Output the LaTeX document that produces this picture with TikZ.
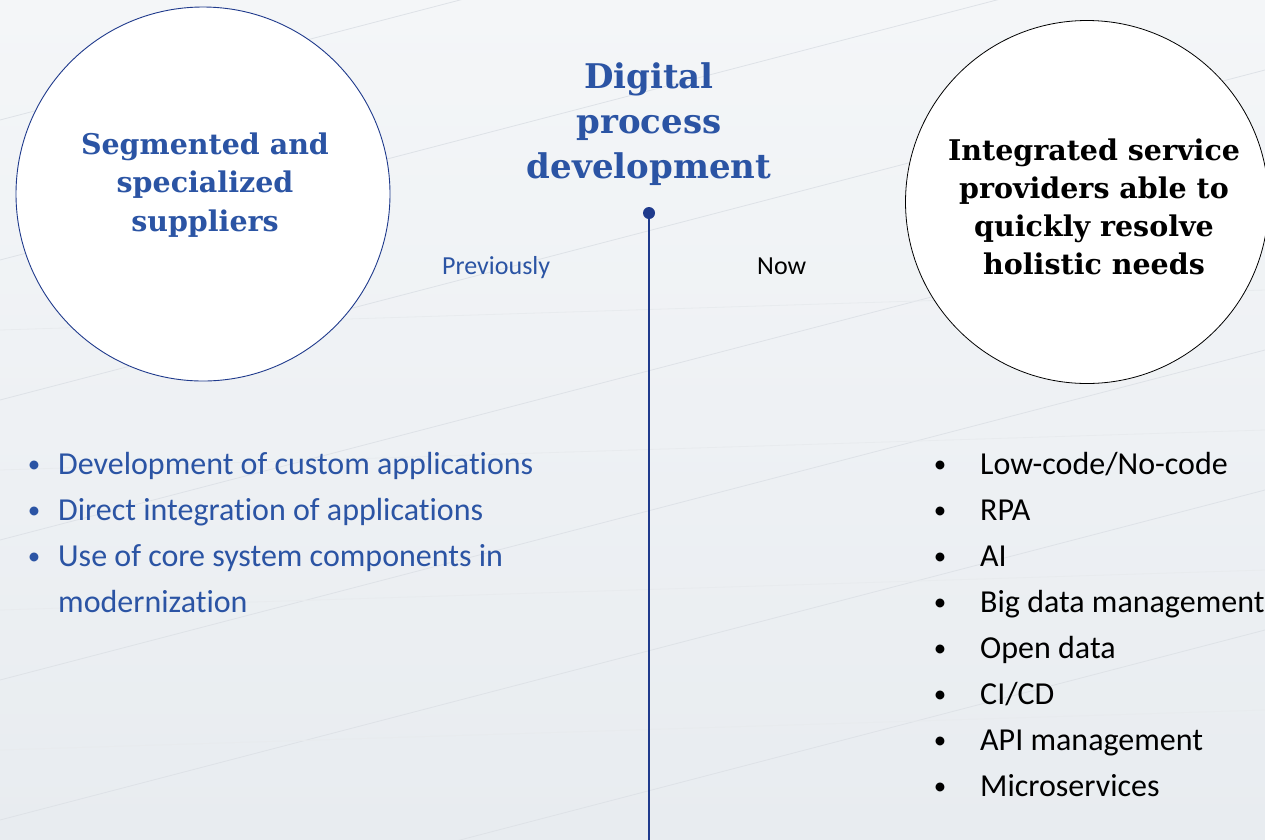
\documentclass[tikz,border=0pt]{standalone}
\usepackage{fontspec}
\setmainfont{DejaVu Serif}
\newfontfamily\bodyfont[Ligatures=NoCommon]{Carlito}
\newfontfamily\headfont{DejaVu Serif}
\definecolor{titleblue}{RGB}{43,84,164}
\definecolor{navy}{RGB}{31,58,140}
\definecolor{bgtop}{RGB}{244,246,248}
\definecolor{bgbot}{RGB}{232,236,240}
\definecolor{streak}{RGB}{222,226,231}
\tikzset{
  headtxt/.style={inner sep=0pt, anchor=base, font=\headfont\bfseries\fontsize{34}{45}\selectfont, text=titleblue},
  circtxt/.style={inner sep=0pt, anchor=base, font=\headfont\bfseries\fontsize{28.5}{38}\selectfont},
  bigcircle/.style={circle, fill=white, inner sep=0pt},
  listtxt/.style={inner sep=0pt, anchor=base west, font=\bodyfont\fontsize{32}{38}\selectfont},
  bul/.style={inner sep=0pt, anchor=base, font=\bodyfont\fontsize{25}{30}\selectfont},
  smalltxt/.style={inner sep=0pt, anchor=base west, font=\bodyfont\fontsize{26}{30}\selectfont},
  bgline/.style={draw=streak, line width=0.8pt}
}
\begin{document}
\begin{tikzpicture}[x=1pt,y=-1pt]
\useasboundingbox (0,0) rectangle (1265,839);
\clip (0,0) rectangle (1265,839);
% background
\shade[top color=bgtop, bottom color=bgbot] (0,0) rectangle (1265,839);
\foreach \y in {120,260,400,540,680,820,960}{
  \draw[bgline] (0,\y) -- (1265,\y-330);
}
\foreach \y in {330,470,610,750}{
  \draw[bgline, draw=streak!70] (0,\y) -- (1265,\y-40);
}
% circles
\node[bigcircle, draw=navy, line width=0.9pt, minimum size=374pt] (seg) at (203,194) {};
\node[bigcircle, draw=black, line width=0.8pt, minimum size=363pt] (integ) at (1087,202) {};
% left circle text
\node[circtxt, text=titleblue] (seg1) at (205,154) {Segmented and};
\node[circtxt, text=titleblue] (seg2) at (205,192) {specialized};
\node[circtxt, text=titleblue] (seg3) at (205,231) {suppliers};
% right circle text
\node[circtxt, text=black] (int1) at (1094,160) {Integrated service};
\node[circtxt, text=black] (int2) at (1094,198) {providers able to};
\node[circtxt, text=black] (int3) at (1094,236) {quickly resolve};
\node[circtxt, text=black] (int4) at (1094,274) {holistic needs};
% title
\node[headtxt] (t1) at (649,88) {Digital};
\node[headtxt] (t2) at (649,133) {process};
\node[headtxt] (t3) at (649,178) {development};
% timeline
\node[circle, fill=navy, inner sep=0pt, minimum size=12pt] (dot) at (649,213) {};
\coordinate (bottom) at (649,845);
\draw[navy, line width=1.6pt] (dot) -- (bottom);
% labels
\node[smalltxt, text=titleblue] (prev) at (442,274) {Previously};
\node[smalltxt, text=black] (now) at (757,274) {Now};
% left list
\foreach \yy [count=\i] in {472,518,564}{
  \node[bul, text=titleblue] (lb\i) at (34,\yy) {•};
}
\node[listtxt, text=titleblue] (l1) at (58,474) {Development of custom applications};
\node[listtxt, text=titleblue] (l2) at (58,520) {Direct integration of applications};
\node[listtxt, text=titleblue] (l3) at (58,566) {Use of core system components in};
\node[listtxt, text=titleblue] (l4) at (58,612) {modernization};
% right list
\foreach \yy [count=\i] in {472,518,564,610,656,702,748,794}{
  \node[bul, text=black] (rb\i) at (940,\yy) {•};
}
\node[listtxt] (r1) at (980,474) {Low-code/No-code};
\node[listtxt] (r2) at (980,520) {RPA};
\node[listtxt] (r3) at (980,566) {AI};
\node[listtxt] (r4) at (980,612) {Big data management};
\node[listtxt] (r5) at (980,658) {Open data};
\node[listtxt] (r6) at (980,704) {CI/CD};
\node[listtxt] (r7) at (980,750) {API management};
\node[listtxt] (r8) at (980,796) {Microservices};
\end{tikzpicture}
\end{document}
